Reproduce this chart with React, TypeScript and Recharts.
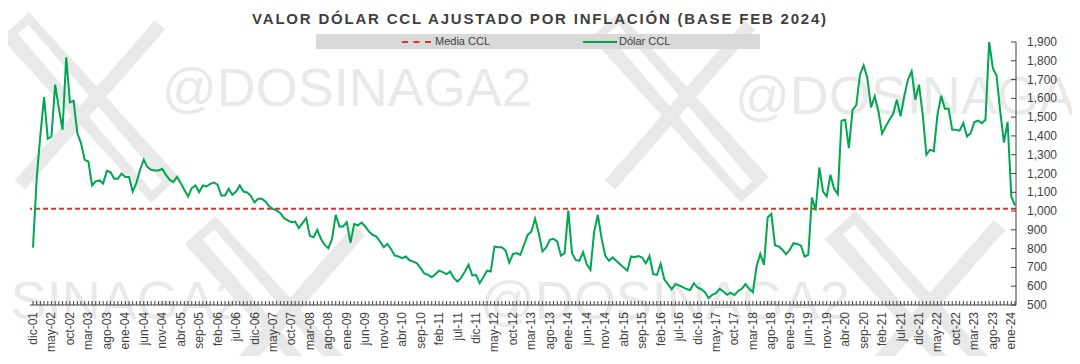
import { Line, LineChart, ReferenceLine, XAxis, YAxis } from 'recharts';

const MESES = ['ene', 'feb', 'mar', 'abr', 'may', 'jun', 'jul', 'ago', 'sep', 'oct', 'nov', 'dic'];

// dic-01 .. abr-09
const ccl2001a2009 = [
  806, 1175, 1406, 1607, 1385, 1397, 1673, 1548, 1433, 1818, 1579, 1587, 1415, 1362, 1273, 1264, 1136, 1158, 1163, 1147,
  1214, 1207, 1172, 1172, 1200, 1182, 1182, 1104, 1149, 1220, 1273, 1234, 1220, 1216, 1216, 1225, 1193, 1167, 1154, 1182,
  1149, 1113, 1078, 1122, 1136, 1101, 1136, 1131, 1145, 1152, 1140, 1083, 1083, 1119, 1087, 1104, 1136, 1104, 1099, 1081,
  1046, 1065, 1065, 1051, 1024, 1012, 1003, 989, 962, 950, 941, 944, 909, 936, 962, 868, 861, 900, 852, 820,
  802, 852, 980, 918, 918, 941, 831, 932, 923,
];
// may-09 .. sep-16
const ccl2009a2016 = [
  939, 918, 891, 873, 864, 838, 808, 825, 797, 763, 758, 749, 758, 738, 731, 722, 696, 668, 660, 648,
  664, 683, 675, 664, 678, 643, 625, 646, 678, 714, 657, 660, 616, 648, 683, 678, 811, 808, 808, 790,
  726, 771, 776, 767, 820, 873, 891, 959, 882, 785, 806, 847, 852, 838, 763, 776, 1003, 776, 740, 735,
  781, 717, 687, 891, 980, 856, 763, 735, 753, 735, 717, 699, 682, 758, 754, 761, 753, 722, 761, 664,
  660, 719, 637, 611, 584, 611, 604, 595, 585,
];
// oct-16 .. feb-24
const ccl2016a2024 = [
  580, 616, 593, 584, 568, 536, 554, 563, 586, 572, 554, 566, 552, 575, 586, 611, 586, 568, 705, 772,
  714, 966, 985, 817, 812, 794, 770, 794, 829, 825, 817, 758, 767, 1072, 1003, 1232, 1104, 1078, 1193, 1119,
  1090, 1481, 1486, 1335, 1539, 1563, 1726, 1776, 1708, 1552, 1611, 1531, 1412, 1451, 1486, 1518, 1593, 1504, 1611, 1699,
  1744, 1593, 1673, 1513, 1300, 1327, 1318, 1513, 1614, 1545, 1545, 1433, 1433, 1428, 1468, 1397, 1415, 1474, 1481, 1468,
  1486, 1900, 1761, 1722, 1531, 1365, 1474, 1078, 1030,
];
const dolarCcl = [...ccl2001a2009, ...ccl2009a2016, ...ccl2016a2024];
const mediaCcl = 1013;
const yTicks = [500, 600, 700, 800, 900, 1000, 1100, 1200, 1300, 1400, 1500, 1600, 1700, 1800, 1900];

const data = dolarCcl.map((v, i) => {
  const m = (11 + i) % 12;
  const y = 2001 + Math.floor((11 + i) / 12);
  return { mes: `${MESES[m]}-${String(y % 100).padStart(2, '0')}`, ccl: v };
});

const FONT = '"Liberation Sans", Arial, sans-serif';
const INK = '#404040';
const WM = '#e9e9e9';

const XTick = (props: any) => {
  const { x, y, payload, index } = props;
  return (
    <g>
      <line x1={x} x2={x} y1={y} y2={y - 4} stroke={INK} strokeWidth={1} />
      {index % 5 === 0 && (
        <text x={x} y={y + 7} transform={`rotate(-90, ${x}, ${y + 7})`} textAnchor="end" dominantBaseline="central"
          fill={INK} fontSize={12} fontFamily={FONT}>{payload.value}</text>
      )}
    </g>
  );
};

const YTick = (props: any) => {
  const { x, y, payload } = props;
  return (
    <g>
      <line x1={x - 5} x2={x} y1={y} y2={y} stroke={INK} strokeWidth={1} />
      <text x={x + 11} y={y} dominantBaseline="central" fill={INK} fontSize={12} fontFamily={FONT}>
        {payload.value.toLocaleString('en-US')}
      </text>
    </g>
  );
};

// watermark "X" logo: hollow thick stroke + thin stroke
const XLogo = ({ x, y, s }: { x: number; y: number; s: number }) => (
  <g transform={`translate(${x}, ${y}) scale(${s})`}>
    <line x1={0} y1={0} x2={150} y2={165} stroke={WM} strokeWidth={38} />
    <line x1={8} y1={4} x2={142} y2={161} stroke="#fff" strokeWidth={14} />
    <line x1={145} y1={0} x2={5} y2={160} stroke={WM} strokeWidth={14} />
  </g>
);

const wm = { position: 'absolute' as const, color: WM, fontFamily: FONT, fontSize: 54, whiteSpace: 'nowrap' as const, lineHeight: 1 };

export default function App() {
  return (
    <div style={{ position: 'relative', width: 1080, height: 364, margin: -8, background: '#fff', overflow: 'hidden' }}>
      <svg width={1080} height={364} style={{ position: 'absolute', left: 0, top: 0 }}>
        <XLogo x={15} y={25} s={1} />
        <XLogo x={605} y={25} s={1} />
        <XLogo x={200} y={230} s={1.1} />
        <XLogo x={840} y={225} s={1.1} />
      </svg>
      <div style={{ ...wm, left: 162, top: 60 }}>@DOSINAGA2</div>
      <div style={{ ...wm, left: 735, top: 68 }}>@DOSINAGA2</div>
      <div style={{ ...wm, left: -125, top: 273 }}>@DOSINAGA2</div>
      <div style={{ ...wm, left: 480, top: 273 }}>@DOSINAGA2</div>
      <div style={{ position: 'absolute', left: 0, width: 1080, top: 10, textAlign: 'center', fontFamily: FONT, fontWeight: 700, fontSize: 15, letterSpacing: 1.8, color: INK }}>
        VALOR DÓLAR CCL AJUSTADO POR INFLACIÓN (BASE FEB 2024)
      </div>
      <div style={{ position: 'absolute', left: 316, top: 34, width: 444, height: 15, background: '#d9d9d9', fontFamily: FONT, fontSize: 11, color: INK }}>
        <div style={{ position: 'absolute', left: 86, top: 7, width: 29, borderTop: '2px dashed #e0302a' }} />
        <div style={{ position: 'absolute', left: 119, top: 1 }}>Media CCL</div>
        <div style={{ position: 'absolute', left: 267, top: 7, width: 34, borderTop: '2px solid #00a651' }} />
        <div style={{ position: 'absolute', left: 303, top: 1 }}>Dólar CCL</div>
      </div>
      <div style={{ position: 'absolute', left: 0, top: 0 }}>
        <LineChart width={1080} height={364} data={data} margin={{ top: 42, right: 0, left: 30, bottom: 0 }}>
          <XAxis dataKey="mes" interval={0} tickLine={false} tickSize={0} tickMargin={0} tick={<XTick />}
            height={59} padding={{ left: 3, right: 1 }} axisLine={{ stroke: INK }} />
          <YAxis orientation="right" domain={[500, 1900]} ticks={yTicks} tickLine={false} tickSize={0} tickMargin={0}
            tick={<YTick />} width={64} axisLine={{ stroke: INK }} interval={0} />
          <ReferenceLine y={mediaCcl} stroke="#e0302a" strokeWidth={2} strokeDasharray="5 3" />
          <Line type="linear" dataKey="ccl" stroke="#00a651" strokeWidth={2} dot={false} isAnimationActive={false} />
        </LineChart>
      </div>
    </div>
  );
}
